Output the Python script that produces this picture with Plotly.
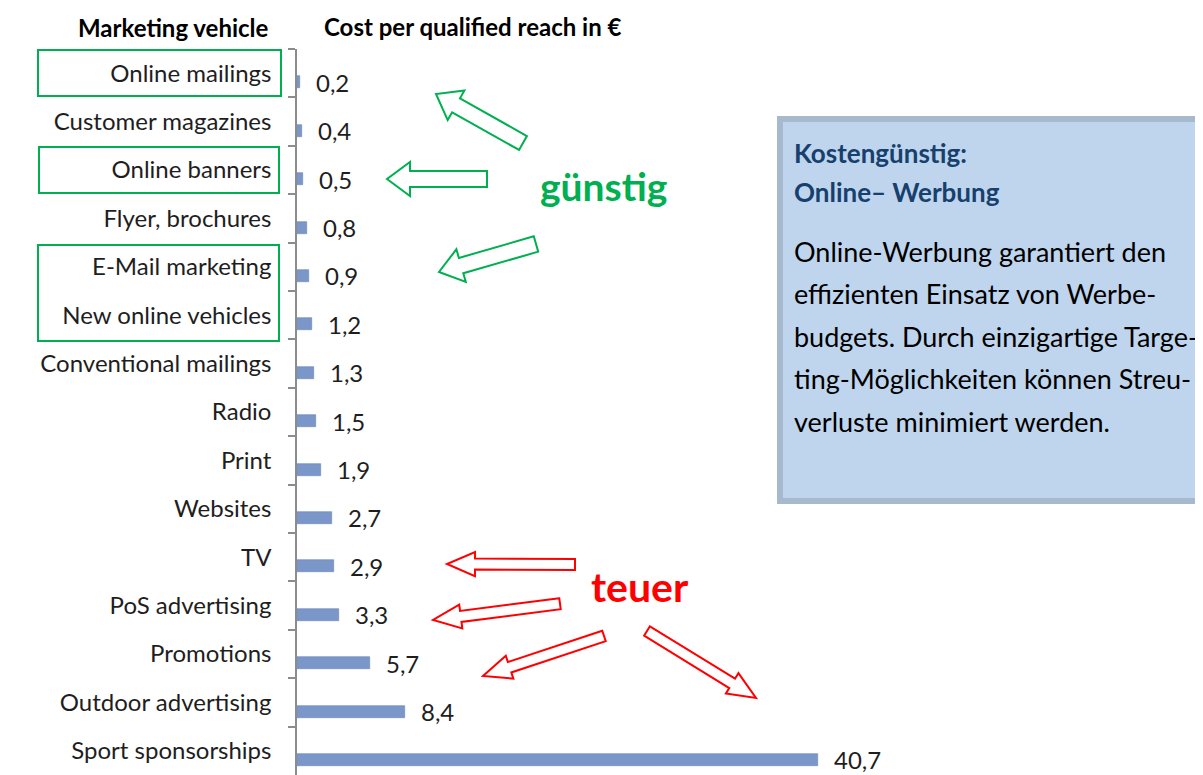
import math
import plotly.graph_objects as go

# ---------------- data ----------------
categories = [
    "Online mailings", "Customer magazines", "Online banners", "Flyer, brochures",
    "E-Mail marketing", "New online vehicles", "Conventional mailings", "Radio",
    "Print", "Websites", "TV", "PoS advertising", "Promotions",
    "Outdoor advertising", "Sport sponsorships",
]
costs = [0.2, 0.4, 0.5, 0.8, 0.9, 1.2, 1.3, 1.5, 1.9, 2.7, 2.9, 3.3, 5.7, 8.4, 40.7]
header_left = "Marketing vehicle"
header_right = "Cost per qualified reach in €"
box_title = ["Kostengünstig:", "Online– Werbung"]
box_body = [
    "Online-Werbung garantiert den",
    "effizienten Einsatz von Werbe-",
    "budgets. Durch einzigartige Targe-",
    "ting-Möglichkeiten können Streu-",
    "verluste minimiert werden.",
]

# ---------------- geometry helpers ----------------
# page body has an 8px margin, so the figure is drawn 8px smaller and the
# screen coordinates below are converted accordingly
OFF = 8
W, H = 1203 - OFF, 775 - OFF
L, T = 297 - OFF, 49 - OFF
PW, PH = W - L, H - T
XMAX = PW / 12.8

FONT = "Lato, Carlito, 'Open Sans', sans-serif"


def px(x):
    return (x - OFF - L) / PW


def py(y):
    return (H - (y - OFF)) / PH


def block_arrow(tail, tip, shaft_w, head_w, head_len):
    tx, ty = tail
    hx, hy = tip
    dx, dy = hx - tx, hy - ty
    d = math.hypot(dx, dy)
    ux, uy = dx / d, dy / d
    nx, ny = -uy, ux
    bx, by = hx - ux * head_len, hy - uy * head_len
    pts = [
        (tx + nx * shaft_w / 2, ty + ny * shaft_w / 2),
        (bx + nx * shaft_w / 2, by + ny * shaft_w / 2),
        (bx + nx * head_w / 2, by + ny * head_w / 2),
        (hx, hy),
        (bx - nx * head_w / 2, by - ny * head_w / 2),
        (bx - nx * shaft_w / 2, by - ny * shaft_w / 2),
        (tx - nx * shaft_w / 2, ty - ny * shaft_w / 2),
    ]
    path = "M " + " L ".join(f"{px(x):.5f},{py(y):.5f}" for x, y in pts) + " Z"
    return path


# ---------------- figure ----------------
fig = go.Figure()
fig.add_trace(go.Bar(
    x=costs, y=categories, orientation="h",
    width=0.25, offset=0.065,
    marker=dict(color="#7b97c9", line=dict(color="#6884b6", width=0.6)),
    hoverinfo="skip",
))

annotations = []
for c, v in zip(categories, costs):
    annotations.append(dict(
        x=v, y=c, xref="x", yref="y", text=f"{v:.1f}".replace(".", ","),
        showarrow=False, xanchor="left", yanchor="middle", xshift=14, yshift=-9,
        font=dict(family=FONT, size=24, color="#1e1e1e"),
    ))

# headers
annotations.append(dict(x=px(271), y=py(28), xref="paper", yref="paper", text=f"<b>{header_left}</b>",
                        showarrow=False, xanchor="right", yanchor="middle",
                        font=dict(family=FONT, size=24, color="#000000")))
annotations.append(dict(x=px(322), y=py(26), xref="paper", yref="paper", text=f"<b>{header_right}</b>",
                        showarrow=False, xanchor="left", yanchor="middle",
                        font=dict(family=FONT, size=24, color="#000000")))

# big words
annotations.append(dict(x=px(603), y=py(186), xref="paper", yref="paper", text="<b>günstig</b>",
                        showarrow=False, xanchor="center", yanchor="middle",
                        font=dict(family=FONT, size=39, color="#00b050")))
annotations.append(dict(x=px(640), y=py(586), xref="paper", yref="paper", text="<b>teuer</b>",
                        showarrow=False, xanchor="center", yanchor="middle",
                        font=dict(family=FONT, size=41, color="#ff0000")))

# text box content
for i, t in enumerate(box_title):
    annotations.append(dict(x=px(792), y=py(153 + 39 * i), xref="paper", yref="paper", text=f"<b>{t}</b>",
                            showarrow=False, xanchor="left", yanchor="middle",
                            font=dict(family=FONT, size=26, color="#17406d")))
for i, t in enumerate(box_body):
    annotations.append(dict(x=px(792), y=py(251 + 42.5 * i), xref="paper", yref="paper", text=t,
                            showarrow=False, xanchor="left", yanchor="middle",
                            font=dict(family=FONT, size=27, color="#000000")))

shapes = []
# info box
shapes.append(dict(type="rect", xref="paper", yref="paper",
                   x0=px(780), x1=px(1210), y0=py(119), y1=py(501),
                   line=dict(color="#a7b9cc", width=6), fillcolor="#bed5ed", layer="below"))
# green boxes around labels
for (x0, y0, x1, y1) in [(38, 50, 281, 96), (39, 147, 279, 193), (38, 245, 279, 341)]:
    shapes.append(dict(type="rect", xref="paper", yref="paper",
                       x0=px(x0), x1=px(x1), y0=py(y0), y1=py(y1),
                       line=dict(color="#00b050", width=2), fillcolor="rgba(0,0,0,0)"))
# green arrows
for tail, tip in [((523, 143), (436, 94)), ((487, 179), (387, 179)), ((536, 244), (439, 272))]:
    shapes.append(dict(type="path", xref="paper", yref="paper",
                       path=block_arrow(tail, tip, 16, 34, 23),
                       line=dict(color="#00b050", width=2), fillcolor="white"))
# red arrows
for tail, tip in [((575, 564.5), (447, 564)), ((560, 603.7), (433, 620)),
                  ((604, 636), (483, 676)), ((647, 631), (756, 698))]:
    shapes.append(dict(type="path", xref="paper", yref="paper",
                       path=block_arrow(tail, tip, 11, 24, 28),
                       line=dict(color="#ff0000", width=2), fillcolor="white"))

fig.update_layout(
    width=W, height=H,
    margin=dict(l=L, r=0, t=T, b=0),
    paper_bgcolor="white", plot_bgcolor="white",
    showlegend=False,
    annotations=annotations,
    shapes=shapes,
    xaxis=dict(range=[0, XMAX], visible=False, fixedrange=True),
    yaxis=dict(
        type="category", categoryorder="array", categoryarray=categories,
        range=[len(categories) - 0.5, -0.5],
        showline=True, linecolor="#8c8c8c", linewidth=1.5,
        ticks="outside", ticklen=7, tickcolor="#8c8c8c", tickwidth=1.5,
        tickson="boundaries", showgrid=False, zeroline=False,
        tickfont=dict(family=FONT, size=24, color="#1e1e1e"),
        ticklabelstandoff=19,
    ),
    bargap=0,
)

fig.write_html("out.html")
